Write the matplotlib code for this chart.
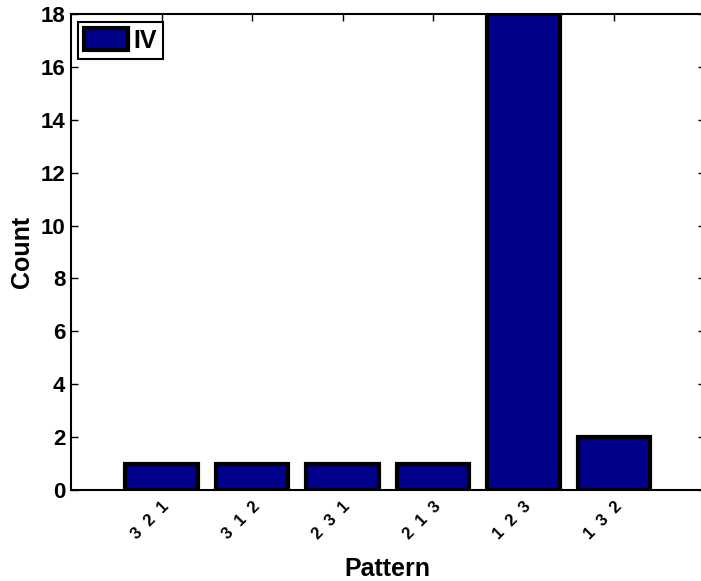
import matplotlib
matplotlib.use("Agg")
import matplotlib.pyplot as plt
import matplotlib.transforms as mtransforms
from matplotlib.patches import Patch

# pattern labels and counts
patterns = ["3  2  1", "3  1  2", "2  3  1", "2  1  3", "1  2  3", "1  3  2"]
counts = [1, 1, 1, 1, 18, 2]
series_name = "IV"

plt.rcParams["font.family"] = ["Liberation Sans", "DejaVu Sans"]
plt.rcParams["font.weight"] = "bold"

fig = plt.figure(figsize=(7.01, 5.81), dpi=100)
W, H = 701, 581
ax = fig.add_axes([71 / W, 1 - 490 / H, 633.5 / W, 476 / H])

x = range(1, len(counts) + 1)
ax.bar(x, counts, width=0.8, color="#00008B", edgecolor="black",
       linewidth=3, zorder=3)

ax.set_xlim(0, 7)
ax.set_ylim(0, 18)
ax.set_yticks(range(0, 19, 2))
ax.set_xticks(list(x))
ax.set_xticklabels(patterns, rotation=45, ha="right", va="top",
                   rotation_mode="anchor", fontsize=12, fontweight="bold")
shift = mtransforms.ScaledTranslation(0.1, -0.01, fig.dpi_scale_trans)
for lbl in ax.get_xticklabels():
    lbl.set_transform(lbl.get_transform() + shift)

ax.tick_params(axis="both", direction="in", length=5, width=1,
               top=True, right=True)
ax.tick_params(axis="y", labelsize=16, pad=4)
for lbl in ax.get_yticklabels():
    lbl.set_fontweight("bold")
ax.tick_params(axis="x", pad=6)

for s in ax.spines.values():
    s.set_linewidth(1.5)
    s.set_color("black")

ax.set_ylabel("Count", fontsize=18, fontweight="bold", labelpad=5)
ax.set_xlabel("Pattern", fontsize=18, fontweight="bold", labelpad=11)

leg = ax.legend(handles=[Patch(facecolor="#00008B", edgecolor="black",
                               linewidth=3, label=series_name)],
                loc="upper left", bbox_to_anchor=(0.011, 0.983),
                fancybox=False, framealpha=1, edgecolor="black",
                prop={"size": 18, "weight": "bold"},
                handlelength=1.76, handleheight=0.95,
                borderpad=0.25, handletextpad=0.2, borderaxespad=0)
leg.get_frame().set_linewidth(1.5)

fig.savefig("out.png", dpi=100)
